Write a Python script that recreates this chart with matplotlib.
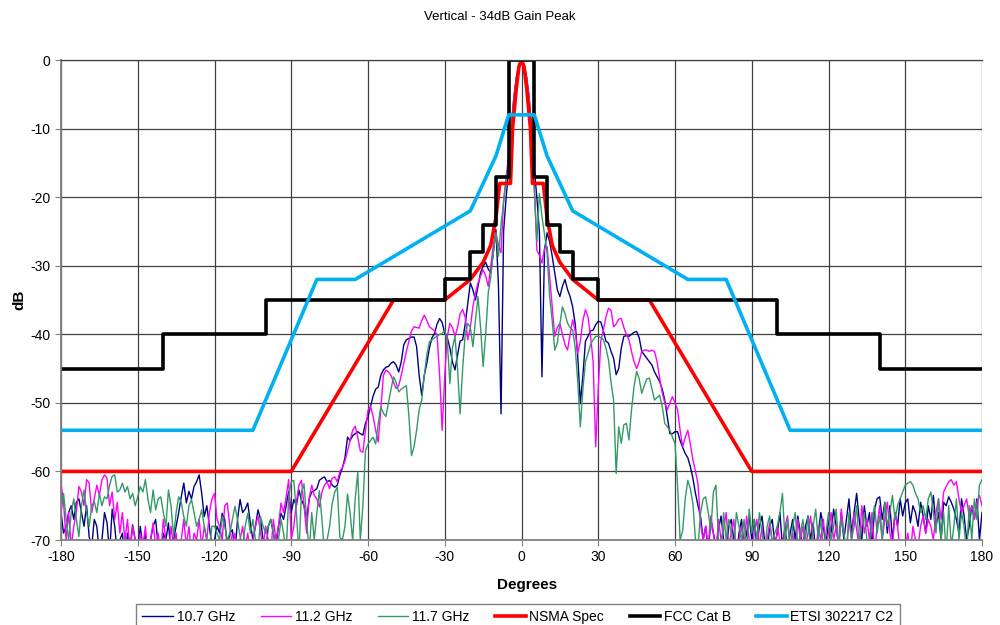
import numpy as np
import matplotlib
matplotlib.use("Agg")
import matplotlib.pyplot as plt

plt.rcParams['font.family'] = ['Liberation Sans', 'DejaVu Sans']
plt.rcParams['axes.unicode_minus'] = False

# measured patterns, one value per degree from -180 to 180
deg = np.arange(-180, 181, 1)

ghz_10_7 = [
    -66, -69, -68, -66, -65, -67, -64.5, -64, -66, -68,
    -65, -69.5, -71, -67, -68, -72, -70, -66, -67.5, -72,
    -65.5, -68, -72, -70, -69, -73, -69, -71, -67.8, -70,
    -72, -68, -71, -69, -73, -70, -68, -67, -71, -74,
    -69, -70, -67.5, -72, -70, -68, -66, -63.7, -61.7, -64.6,
    -62.9, -64, -62.2, -61.5, -60.5, -63.2, -66.6, -65, -68, -71,
    -70, -68, -69, -66.1, -67, -71, -69, -68.5, -72, -67,
    -64.1, -66, -65.5, -64.6, -67.5, -70, -68, -65.6, -67, -70,
    -72, -68, -67, -69, -71, -68, -66.1, -67, -65, -62.9,
    -66, -64.1, -65, -62.7, -64.2, -65, -67.1, -64, -63, -62.8,
    -62.5, -61.3, -61, -60.8, -61.5, -61.3, -62, -62.3, -62, -60.5,
    -59.5, -58, -55, -55.5, -54.8, -54.5, -54.2, -54.5, -54.7, -53,
    -52, -50.5, -49, -48, -47.7, -46, -45.2, -44.8, -44.7, -44.2,
    -44, -44.5, -45.5, -44, -41.5, -40.8, -40.6, -40.4, -40.4, -41.8,
    -46, -48.9, -46, -44.2, -42, -40.5, -39.9, -38.5, -37.7, -38.3,
    -39.9, -40.5, -42, -44, -45.2, -43, -41, -40.8, -38.5, -35.5,
    -32.5, -33.5, -35, -33, -31, -30.1, -29.5, -30.5, -31, -28,
    -24.7, -33, -51.6, -25, -20, -16, -10, -5.5, -2.5, -0.6,
    0,
    -0.6, -2.5, -5.5, -10, -16, -20, -25.2, -46.2, -27.7, -25.2,
    -26.5, -28.6, -31, -33.5, -34.5, -33, -32, -33.5, -34.5, -36,
    -38.5, -43.3, -50.1, -46, -41, -40.3, -39.5, -39.4, -38.6, -38.1,
    -38.2, -39.5, -41, -41.3, -42.5, -43.5, -45.9, -45, -42, -40.3,
    -40.2, -40.3, -40, -39.7, -39.6, -40.5, -42.5, -43, -43.5, -44,
    -44.5, -45.5, -46.2, -46.9, -48, -49.6, -52, -54.5, -54.5, -54.2,
    -54.2, -55.5, -56.5, -57.4, -58, -59.3, -61, -63.2, -65, -66.6,
    -70, -68, -72, -67, -69, -71, -68.5, -66.5, -70, -72,
    -68, -67, -70, -73, -69, -67, -71, -69, -66.5, -70,
    -67, -71, -68, -66.5, -70, -72, -68, -67, -70.5, -69,
    -66, -71, -68, -72, -69, -67, -70, -66.5, -69, -71,
    -68, -66.5, -70, -67.5, -72, -69, -66, -68, -71, -67,
    -69, -65.5, -68, -71, -66, -70, -67, -64, -69, -66,
    -63.2, -67, -70, -65, -68, -66, -71, -65.5, -64, -63.7,
    -67, -64.5, -69, -65, -70, -66, -68, -64, -66.5, -64.6,
    -64, -67.5, -65, -66, -68, -64.5, -66.5, -69, -65, -67,
    -63.5, -68, -66, -70, -64.5, -65, -63.7, -64.5, -65.5, -67,
    -69, -64, -66.5, -70, -68, -65, -67, -64, -70, -66,
]

ghz_11_2 = [
    -61.7, -64.6, -70, -66, -71, -68, -66, -62.2, -63, -65,
    -61.2, -61.7, -66, -64, -62, -63.5, -61.2, -60.5, -61, -65,
    -63, -67, -64.5, -69, -66, -70, -67, -72, -68, -70,
    -72, -69, -71, -68, -73, -70, -67.5, -71, -69, -72,
    -67, -70, -72, -68, -71, -69, -73, -70, -67, -71,
    -68, -72, -69, -70, -67, -71, -68, -70, -66, -64,
    -63.2, -67, -68, -70, -65, -64.6, -68, -71, -69, -72,
    -70, -68, -71, -69, -72, -70, -68, -66.5, -69, -71,
    -68, -70, -72, -67, -70, -68, -64.6, -66, -63.7, -61.2,
    -70, -68, -64.5, -62, -61.3, -65, -69, -64, -62, -63.5,
    -64, -65.2, -63, -62, -61.5, -62.5, -61, -60.8, -61.5, -60,
    -59.4, -58.5, -57, -55.5, -54, -53.4, -55, -57, -57.2, -54,
    -51.1, -50.5, -52, -54, -55.7, -51, -46, -45.2, -45.5, -46,
    -47, -47.9, -47.5, -46, -44.2, -42.5, -41, -39.5, -38.9, -39,
    -39.1, -38, -37.2, -38, -38.9, -39.2, -39.5, -40.1, -46, -54,
    -46, -40.3, -38.4, -39, -40.3, -39, -37, -36.4, -37.5, -40.8,
    -39, -36, -34, -32.5, -31.5, -30.6, -31.5, -33, -30, -27,
    -25.2, -27, -28.1, -20.5, -17, -14, -9.5, -5.5, -2.5, -0.6,
    0,
    -0.6, -2.5, -5.5, -12, -18, -27.7, -28.5, -29.6, -27.5, -27.2,
    -31.6, -36, -40.3, -39, -38.4, -40, -41.5, -42.3, -40, -37.9,
    -39.5, -42.8, -41, -38, -36.4, -37.5, -40.3, -44, -56.4, -48,
    -41, -39.4, -37.5, -36.2, -36.5, -38.9, -38.5, -37.8, -37.7, -39,
    -40, -40.8, -42.5, -44, -45, -44, -42.5, -42.3, -42.3, -42.5,
    -42.3, -42.5, -44, -46.4, -48.5, -50, -51, -50, -49.1, -50,
    -51, -54, -56.4, -55, -54, -56, -58.3, -60, -61.8, -67.6,
    -70, -68, -71, -66.5, -69, -72, -67, -70, -68.5, -66,
    -71, -69, -67, -72, -70, -68, -71, -66.5, -70, -72,
    -69, -67, -71, -68, -72, -70, -67.5, -70, -73, -68,
    -70, -72, -68, -66.5, -71, -69, -72, -67, -70, -68,
    -71, -69, -66.5, -70, -72, -68, -70, -67, -71, -69,
    -66, -70, -68, -71, -65.5, -69, -72, -67, -70, -66,
    -68.5, -71, -65, -69, -67, -70, -66, -72, -68, -65,
    -70, -67, -64.5, -69, -71, -66, -68, -72, -70, -71,
    -69, -72, -68, -70, -71, -68, -66.5, -69, -67, -68,
    -70, -66, -64, -67, -63, -62.2, -61.5, -61.2, -62, -61.5,
    -64, -66, -65, -64, -66.5, -65, -67, -64.5, -63.5, -65,
]

ghz_11_7 = [
    -66, -63.2, -67, -70, -66, -64, -67, -69.5, -65, -62.7,
    -66, -68, -65, -64.4, -66, -63.2, -65, -63.7, -64, -62,
    -60.7, -60.5, -63, -62.7, -61.7, -63, -62.2, -64, -63.2, -65,
    -63.7, -62.2, -63, -61.2, -64.1, -66, -62.7, -65.6, -64, -63.7,
    -66, -68, -62.7, -65, -69.5, -66, -63.7, -64.5, -66.6, -68,
    -65, -64.1, -66, -68, -67, -65.6, -68, -70, -71, -68,
    -68, -69, -70, -66.6, -68, -70, -69, -67, -65.1, -67,
    -69.5, -71, -68, -66.1, -69, -67, -70, -72, -66.6, -68,
    -69, -68, -67, -69, -71, -70, -67, -69, -72, -63.7,
    -61.5, -61.3, -66, -72, -63, -61.8, -67, -72, -66, -70,
    -66, -62.8, -67, -72, -70, -68, -64.7, -63, -62.3, -69.6,
    -70, -68, -63.3, -66, -70.1, -64, -60.1, -70, -65, -57,
    -56, -55.5, -55, -56, -53, -50.6, -51.5, -52, -50, -48,
    -46.2, -47, -48.4, -48, -47.7, -47.5, -52, -57.7, -56.4, -54,
    -51, -49.6, -46, -43, -41.1, -40.8, -40.5, -40.3, -40, -39.9,
    -39.4, -41, -47.2, -42, -40.3, -45, -51.6, -45, -40, -38.4,
    -39, -41.8, -38, -34.5, -39, -44.7, -40, -34, -31.6, -28,
    -25.2, -28.6, -24, -20.8, -17.5, -15, -10, -6, -2.8, -0.7,
    0,
    -0.7, -2.8, -6, -11, -19, -26.5, -19.5, -22.8, -25.5, -28.1,
    -34.5, -38, -42.3, -41.3, -38.5, -36, -37, -38.4, -39, -39.4,
    -42, -47, -53.5, -48, -44, -42.8, -41.5, -40.8, -40.3, -40.3,
    -40.5, -40.8, -42, -43.7, -47, -49.6, -60.3, -53.5, -55.9, -53.2,
    -53, -55.4, -51, -47.6, -45.4, -46.5, -48.6, -47.5, -46.5, -46.4,
    -48, -49.6, -49.2, -48.9, -50.5, -53, -53.5, -54, -55, -55.9,
    -62, -70, -68.6, -64, -61.3, -62.5, -64.7, -70, -71, -66,
    -64, -63.7, -66, -68.6, -63, -62, -70, -72, -66, -70,
    -67, -69, -71, -66, -68, -70, -67, -72, -65.5, -69,
    -67, -70, -66, -69, -72, -68, -66.5, -71, -69, -68,
    -66, -63.2, -70, -67, -72, -68, -66, -71, -69, -67,
    -70, -66.5, -72, -68, -65.5, -70, -67, -71, -69, -66,
    -70, -68, -65.5, -71, -67, -69, -72, -66, -70, -68,
    -65, -71, -68, -66, -70, -72, -67, -65, -69, -66.5,
    -70, -64.5, -68, -66, -63.5, -67, -65, -64, -63, -62,
    -61.7, -61.5, -62, -63.2, -64, -66, -65, -67, -64, -63,
    -66, -69, -64, -70, -66, -72, -65, -71, -68, -64,
    -70, -66, -68, -72, -65, -70, -64, -67, -62, -61.2,
]

# spec masks
nsma_deg = [-180, -90, -50, -30, -20, -15, -12, -10, -8.5, -4.3, -3.5, -2, -1, 0,
            1, 2, 3.5, 4.3, 8.5, 10, 12, 15, 20, 30, 50, 90, 180]
nsma_db = [-60, -60, -35, -35, -32, -29.5, -27, -23, -18, -18, -10, -4, -1, 0,
           -1, -4, -10, -18, -18, -23, -27, -29.5, -32, -35, -35, -60, -60]

fcc_deg = [-180, -140, -140, -100, -100, -30, -30, -20, -20, -15, -15, -10, -10, -5, -5,
           5, 5, 10, 10, 15, 15, 20, 20, 30, 30, 100, 100, 140, 140, 180]
fcc_db = [-45, -45, -40, -40, -35, -35, -32, -32, -28, -28, -24, -24, -17, -17, 0,
          0, -17, -17, -24, -24, -28, -28, -32, -32, -35, -35, -40, -40, -45, -45]

etsi_deg = [-180, -105, -80, -65, -20, -10, -5, 5, 10, 20, 65, 80, 105, 180]
etsi_db = [-54, -54, -32, -32, -22, -14, -8, -8, -14, -22, -32, -32, -54, -54]

fig = plt.figure(figsize=(10, 6.25), dpi=100)
ax = fig.add_axes([0.061, 0.136, 0.921, 0.768])

ax.plot(deg, ghz_10_7, color='#000080', lw=1.0, label='10.7 GHz')
ax.plot(deg, ghz_11_2, color='#FF00FF', lw=1.0, label='11.2 GHz')
ax.plot(deg, ghz_11_7, color='#339966', lw=1.0, label='11.7 GHz')
ax.plot(nsma_deg, nsma_db, color='#FF0000', lw=2.6, label='NSMA Spec')
ax.plot(fcc_deg, fcc_db, color='black', lw=2.6, label='FCC Cat B')
ax.plot(etsi_deg, etsi_db, color='#00B0F0', lw=2.6, label='ETSI 302217 C2')

ax.set_xlim(-180, 180)
ax.set_ylim(-70, 0)
ax.set_xticks(range(-180, 181, 30))
ax.set_yticks(range(-70, 1, 10))
ax.grid(True, color='#404040', lw=0.9)
ax.set_axisbelow(True)
ax.tick_params(labelsize=10, direction='out', length=4, color='#808080')
ax.spines['right'].set_visible(False)
ax.spines['top'].set_color('#404040')
ax.spines['top'].set_linewidth(0.9)
ax.spines['left'].set_color('#808080')
ax.spines['bottom'].set_color('#808080')
ax.spines['left'].set_linewidth(1.3)
ax.spines['bottom'].set_linewidth(1.3)

fig.text(0.5, 0.973, 'Vertical - 34dB Gain Peak', ha='center', va='center', fontsize=9.5)
fig.text(0.527, 1 - 585 / 625, 'Degrees', ha='center', va='center', fontsize=11, fontweight='bold')
fig.text(0.019, 0.52, 'dB', ha='center', va='center', rotation=90, fontsize=11, fontweight='bold')

leg = fig.legend(loc='upper center', bbox_to_anchor=(0.518, 1 - 597 / 625), ncol=6,
                 fontsize=10, frameon=True, fancybox=False, handlelength=2.2,
                 handletextpad=0.25, columnspacing=1.85, borderpad=0.45)
leg.get_frame().set_edgecolor('#606060')
leg.get_frame().set_linewidth(1.0)

fig.savefig('out.png', dpi=100)
